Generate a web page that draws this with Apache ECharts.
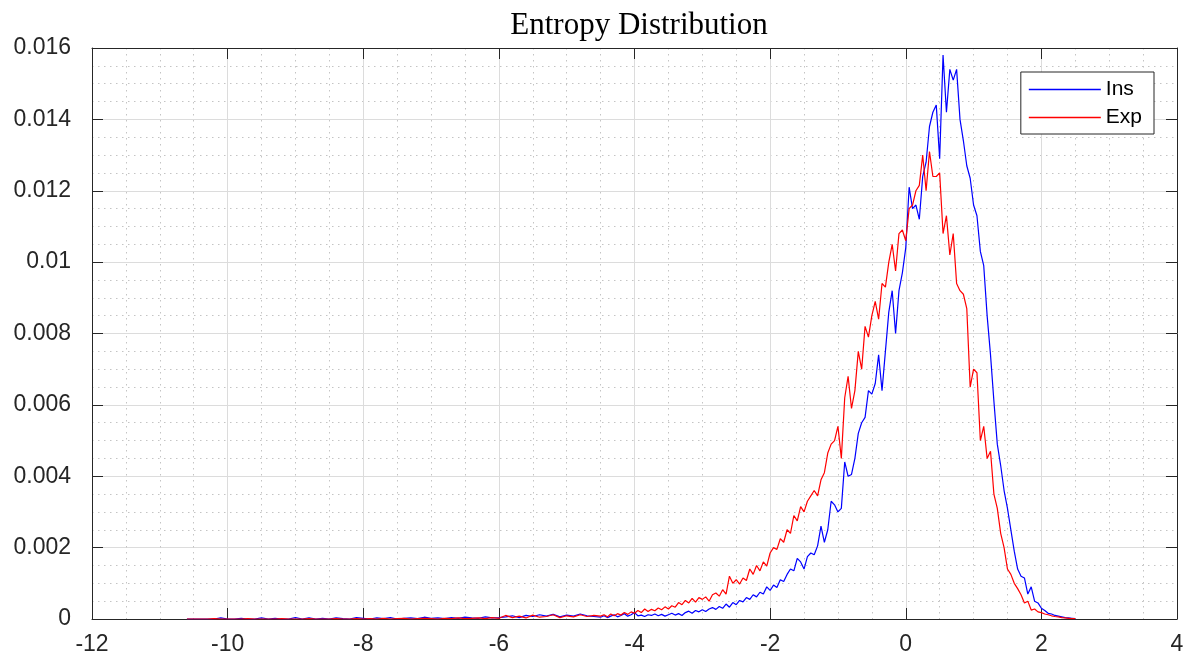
<!DOCTYPE html>
<html>
<head>
<meta charset="utf-8">
<script src="https://cdn.jsdelivr.net/npm/echarts@6/dist/echarts.min.js"></script>
<style>
html,body{margin:0;padding:0;background:#fff;}
#chart{width:1193px;height:658px;}
</style>
</head>
<body>
<div id="chart"></div>
<script>
// ---- data ----
const chartTitle = 'Entropy Distribution';
const seriesNames = ['Ins', 'Exp'];
const xTicks = [-12, -10, -8, -6, -4, -2, 0, 2, 4];
const yTicks = [0, 0.002, 0.004, 0.006, 0.008, 0.01, 0.012, 0.014, 0.016];

// bin centres: sparse tail (-10.6 .. -4.6, step 0.1) and dense core (-4.5 .. 2.5, step 0.05)
const tailStart = -10.6, tailStep = 0.1;
const coreStart = -4.5, coreStep = 0.05;

const insTail = [0,0,0,0,0,0.00003,0,0,0.00002,0,0,0.00003,0,0.00002,0,0,0.00004,0,0.00003,0,0.00002,0,0.00003,0.00001,0,0.00004,0.00002,
  0,0.00003,0.00001,0.00004,0,0.00002,0.00003,0.00001,0.00005,0.00002,0.00003,0.00001,0.00004,0.00002,0.00005,0.00003,0.00002,0.00006,0.00003,0.00004,
  0.00006,0.00009,0.00004,0.00010,0.00007,0.00012,0.00008,0.00013,0.00006,0.00011,0.00008,0.00014,0.00009,0.00007];
const expTail = [0,0,0,0,0.00001,0,0,0,0,0.00001,0,0,0,0,0.00001,0,0,0,0.00001,0,0,0,0.00001,0,0,0.00001,0,
  0.00001,0,0.00002,0,0.00001,0.00002,0,0.00001,0.00002,0.00001,0,0.00002,0.00001,0.00003,0.00001,0.00002,0.00003,0.00001,0.00004,0.00002,
  0.00010,0.00004,0.00008,0.00003,0.00011,0.00005,0.00007,0.00012,0.00004,0.00009,0.00006,0.00012,0.00007,0.00010];

const insCore = [
  0.00005,0.00009,0.00004,0.00008,0.00012,0.00006,0.00010,0.00015,0.00008,0.00012,
  0.00018,0.00009,0.00011,0.00007,0.00012,0.00010,0.00014,0.00009,0.00013,0.00008,
  0.00012,0.00016,0.00011,0.00015,0.00010,0.00018,0.00022,0.00016,0.00024,0.00020,
  0.00026,0.00021,0.00028,0.00032,0.00027,0.00035,0.00030,0.00042,0.00033,0.00046,
  0.00040,0.00052,0.00048,0.00060,0.00055,0.00068,0.00062,0.00075,0.00070,0.00090,
  0.00080,0.00095,0.00088,0.00110,0.00105,0.00125,0.00140,0.00135,0.00170,0.00160,
  0.00140,0.00175,0.00185,0.00180,0.00205,0.00260,0.00215,0.00250,0.00330,0.00320,
  0.00300,0.00310,0.00440,0.00400,0.00405,0.00450,0.00520,0.00550,0.00565,0.00640,
  0.00630,0.00660,0.00740,0.00640,0.00750,0.00860,0.00920,0.00800,0.00920,0.00970,
  0.01040,0.01210,0.01150,0.01160,0.01120,0.01240,0.01280,0.01380,0.01420,0.01440,
  0.01290,0.01580,0.01420,0.01540,0.01510,0.01540,0.01400,0.01340,0.01270,0.01235,
  0.01160,0.01130,0.01030,0.00990,0.00850,0.00740,0.00610,0.00490,0.00430,0.00360,
  0.00310,0.00250,0.00190,0.00140,0.00120,0.00115,0.00070,0.00090,0.00050,0.00045,
  0.00030,0.00024,0.00016,0.00014,0.00010,0.00008,0.00006,0.00004,0.00003,0.00002,
  0.00001];
const expCore = [
  0.00008,0.00012,0.00006,0.00014,0.00009,0.00015,0.00011,0.00018,0.00013,0.00020,
  0.00016,0.00024,0.00018,0.00028,0.00021,0.00027,0.00023,0.00031,0.00026,0.00034,
  0.00028,0.00037,0.00033,0.00046,0.00040,0.00052,0.00045,0.00058,0.00047,0.00060,
  0.00055,0.00062,0.00050,0.00068,0.00073,0.00064,0.00082,0.00070,0.00120,0.00100,
  0.00110,0.00098,0.00115,0.00108,0.00140,0.00125,0.00150,0.00135,0.00160,0.00148,
  0.00185,0.00200,0.00195,0.00225,0.00215,0.00250,0.00240,0.00290,0.00275,0.00315,
  0.00300,0.00330,0.00345,0.00360,0.00345,0.00390,0.00410,0.00465,0.00490,0.00500,
  0.00540,0.00450,0.00620,0.00680,0.00590,0.00640,0.00750,0.00700,0.00820,0.00790,
  0.00850,0.00890,0.00840,0.00940,0.00930,0.01000,0.01050,0.00975,0.01080,0.01090,
  0.01060,0.01150,0.01160,0.01200,0.01215,0.01300,0.01200,0.01310,0.01240,0.01240,
  0.01250,0.01080,0.01130,0.01020,0.01080,0.00940,0.00920,0.00910,0.00870,0.00650,
  0.00700,0.00690,0.00500,0.00540,0.00450,0.00470,0.00350,0.00310,0.00240,0.00200,
  0.00140,0.00125,0.00100,0.00085,0.00068,0.00045,0.00050,0.00025,0.00028,0.00020,
  0.00018,0.00014,0.00012,0.00009,0.00007,0.00006,0.00004,0.00003,0.00002,0.00001,
  0.00001];

function pairs(tail, core) {
  const out = [];
  tail.forEach((v, i) => out.push([+(tailStart + i * tailStep).toFixed(3), v]));
  core.forEach((v, i) => out.push([+(coreStart + i * coreStep).toFixed(3), v]));
  return out;
}

const labelFont = {fontFamily: 'Liberation Sans, Arial, sans-serif', fontSize: 23, color: '#262626'};
const minorLine = {show: true, lineStyle: {color: '#c4c4c4', type: [1.5, 4.5], width: 1}};
const majorLine = {show: true, lineStyle: {color: '#dcdcdc', width: 1}};
const boxLine = {show: true, onZero: false, lineStyle: {color: '#262626', width: 1}};
const tickIn = {show: true, inside: true, length: 11, lineStyle: {color: '#262626', width: 1}};

const xMin = xTicks[0], xMax = xTicks[xTicks.length - 1], xStep = xTicks[1] - xTicks[0];
const yMin = yTicks[0], yMax = yTicks[yTicks.length - 1], yStep = yTicks[1] - yTicks[0];

const chart = echarts.init(document.getElementById('chart'), null, {renderer: 'canvas'});
chart.setOption({
  animation: false,
  backgroundColor: '#ffffff',
  title: {
    text: chartTitle, left: 634, top: 5, textAlign: 'center',
    textStyle: {fontFamily: 'Liberation Serif, Times New Roman, serif', fontWeight: 'normal', fontSize: 31, color: '#000'}
  },
  grid: {left: 92, right: 16, top: 48, bottom: 39, containLabel: false},
  legend: {
    orient: 'vertical', right: 39, top: 72,
    data: seriesNames,
    icon: 'rect', itemWidth: 72, itemHeight: 1.5, itemGap: 7,
    padding: [7, 12, 6, 8],
    borderColor: '#262626', borderWidth: 1, backgroundColor: '#fff',
    textStyle: {fontFamily: 'Liberation Sans, Arial, sans-serif', fontSize: 21, color: '#000'}
  },
  xAxis: [{
    type: 'value', min: xMin, max: xMax, interval: xStep,
    axisLine: boxLine, axisTick: tickIn,
    axisLabel: Object.assign({margin: 14, showMinLabel: true, showMaxLabel: true}, labelFont),
    splitLine: majorLine,
    minorTick: {show: false, splitNumber: 4},
    minorSplitLine: minorLine
  }, {
    type: 'value', position: 'top', min: xMin, max: xMax, interval: xStep,
    axisLine: boxLine, axisTick: tickIn, axisLabel: {show: false}, splitLine: {show: false}
  }],
  yAxis: [{
    type: 'value', min: yMin, max: yMax, interval: yStep,
    axisLine: boxLine, axisTick: tickIn,
    axisLabel: Object.assign({margin: 21, showMinLabel: true, showMaxLabel: true}, labelFont),
    splitLine: majorLine,
    minorTick: {show: false, splitNumber: 4},
    minorSplitLine: minorLine
  }, {
    type: 'value', position: 'right', min: yMin, max: yMax, interval: yStep,
    axisLine: boxLine, axisTick: tickIn, axisLabel: {show: false}, splitLine: {show: false}
  }],
  series: [{
    name: seriesNames[0], type: 'line', showSymbol: false, symbol: 'none',
    data: pairs(insTail, insCore),
    lineStyle: {color: '#0000ff', width: 1.2}, itemStyle: {color: '#0000ff'}, z: 3
  }, {
    name: seriesNames[1], type: 'line', showSymbol: false, symbol: 'none',
    data: pairs(expTail, expCore),
    lineStyle: {color: '#ff0000', width: 1.2}, itemStyle: {color: '#ff0000'}, z: 4
  }]
});
</script>
</body>
</html>
